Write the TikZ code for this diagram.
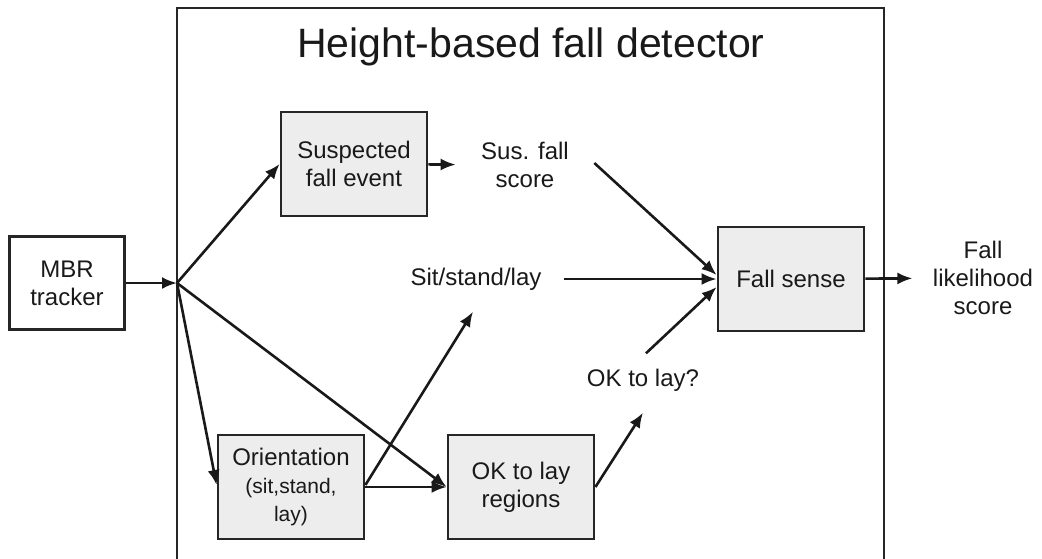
\documentclass[tikz,border=0pt]{standalone}
\usepackage{fontspec}
\setmainfont{Liberation Sans}
\usetikzlibrary{arrows.meta}

\begin{document}
\begin{tikzpicture}[x=1pt,y=-1pt]
\tikzstyle{every node}=[font=\fontsize{24}{28}\selectfont, align=center, text=black!90]
\tikzstyle{box}=[draw=black!85, line width=2.8pt, fill=black!7, minimum width=146pt, minimum height=104pt, inner sep=0pt]
\tikzstyle{arr}=[-{Latex[length=15pt,width=12pt]}, line width=2.6pt, draw=black!90]

% page size
\useasboundingbox (0,0) rectangle (1042,558);

% frame of the detector, open at the bottom
\draw [line width=2.8pt, black!85] (177,562) -- (177,8) -- (884,8) -- (884,562);
\node[font=\fontsize{41}{48}\selectfont, anchor=base] (title) at (531,57) {Height-based fall detector};

% boxes
\node[box, fill=white, minimum width=115pt, minimum height=93pt] (mbr) at (67,283) {MBR\\tracker};
\node[box] (susbox) at (354,164) {Suspected\\fall event};
\node[box] (orient) at (291,487) {Orientation\\{\fontsize{21}{25}\selectfont (sit,stand,}\\{\fontsize{21}{25}\selectfont lay)}};
\node[box] (okreg) at (521,487) {OK to lay\\regions};
\node[box] (fallsense) at (791,279) {Fall sense};

% plain labels
\node (susscore) at (525,165) {Sus. fall\\score};
\node (sit) at (476,279) {Sit/stand/lay};
\node (okq) at (643,380) {OK to lay?};
\node (likely) at (983,278) {Fall\\likelihood\\score};
\coordinate (split) at (177,283);

% connectors
\draw [arr] (mbr) -- (split);
\draw [arr] (split) -- (susbox.west);
\draw [arr] (split) -- ([yshift=2pt]orient.west);
\draw [arr] (split) -- (okreg.west);
\draw [arr] (orient.east) -- (okreg.west);
\draw [arr] ([yshift=2pt]orient.east) -- ([xshift=-3pt,yshift=-18pt]sit.south);
\draw [arr] (okreg.east) -- ([yshift=-18pt]okq.south);
\draw [arr, shorten >=22pt] (susbox) -- (susscore);
\draw [arr] ([xshift=22pt,yshift=2pt]susscore.east) -- ([yshift=4pt]fallsense.west);
\draw [arr] ([xshift=19pt]sit.east) -- (fallsense.west);
\draw [arr] ([xshift=3pt,yshift=12pt]okq.north) -- ([yshift=-8pt]fallsense.west);
\draw [arr, shorten >=17pt] (fallsense) -- (likely);

\end{tikzpicture}
\end{document}
